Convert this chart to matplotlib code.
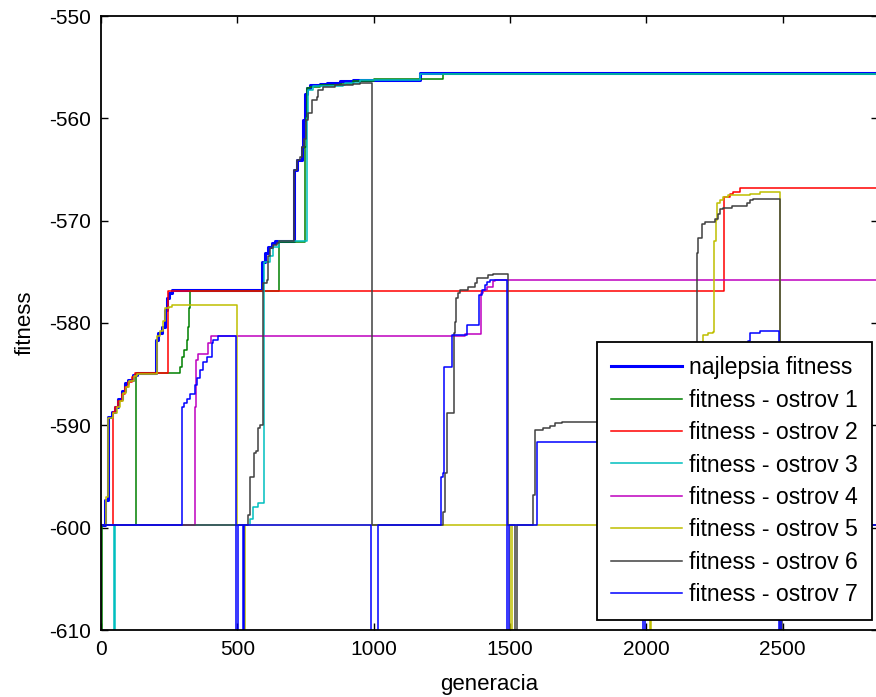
import matplotlib
matplotlib.use("Agg")
import matplotlib.pyplot as plt

# fitness vyvoj na ostrovoch (odcitane z grafu)
# -625 = hodnota pod osou (reset ostrova)

gen_best = [0, 15, 27, 39, 51, 64, 76, 88, 100, 119, 131, 200, 210, 222, 235, 241, 249, 259,
            592, 600, 612, 626, 640, 708, 718, 736, 742, 748, 757, 767, 803, 828, 877, 925, 1170, 2850]
fit_best = [-599.7, -597.3, -589.2, -588.7, -588.2, -587.4, -586.6, -585.9, -585.6, -585.1, -584.9,
            -581.7, -581.0, -580.4, -578.7, -577.6, -577.05, -576.8, -574.0, -573.2, -572.55, -572.2,
            -571.95, -565.0, -564.1, -562.8, -560.2, -557.6, -557.0, -556.7, -556.6, -556.5, -556.4,
            -556.25, -555.55, -555.55]

gen_o1 = [0, 2, 127, 290, 298, 306, 314, 318, 322, 326, 654, 748, 752, 757, 767, 803, 877, 925,
          1000, 1255, 2850]
fit_o1 = [-625, -599.7, -584.9, -584.3, -583.3, -582.65, -581.7, -580.4, -578.5, -576.85, -572.05,
          -562.8, -560.0, -557.0, -556.9, -556.7, -556.6, -556.4, -556.2, -555.65, -555.65]

gen_o2 = [0, 45, 53, 64, 76, 88, 100, 113, 125, 245, 2286, 2307, 2319, 2344, 2850]
fit_o2 = [-599.7, -588.7, -588.2, -587.6, -586.9, -586.3, -585.8, -585.25, -584.9, -576.85,
          -567.66, -567.4, -567.2, -566.85, -566.85]

gen_o3 = [0, 47, 50, 547, 559, 577, 598, 620, 632, 654, 754, 757, 761, 779, 889, 895, 950, 1170, 2850]
fit_o3 = [-599.7, -625, -599.7, -599.2, -598.0, -597.6, -574.0, -573.5, -572.55, -572.0, -562.8,
          -560.0, -557.2, -556.84, -556.7, -556.5, -556.3, -555.7, -555.7]

gen_o4 = [0, 345, 349, 357, 394, 402, 1335, 1394, 1402, 1415, 1439, 1445, 2850]
fit_o4 = [-599.7, -588.2, -583.6, -583.0, -582.0, -581.3, -581.1, -577.1, -576.8, -576.5, -575.9,
          -575.8, -575.8]

gen_o5 = [0, 18, 24, 45, 57, 68, 80, 92, 104, 122, 133, 204, 217, 229, 235, 248, 259, 498, 526, 528,
          1502, 1507, 2012, 2016, 2120, 2160, 2209, 2225, 2243, 2249, 2255, 2258, 2270, 2283, 2300,
          2380, 2418, 2490, 2850]
fit_o5 = [-599.7, -597.0, -589.3, -588.8, -588.2, -587.6, -586.8, -586.3, -585.7, -585.2, -585.0,
          -581.3, -580.8, -579.8, -578.5, -578.4, -578.25, -599.7, -625, -599.7, -625, -599.7, -625,
          -599.7, -590.0, -584.0, -581.2, -581.0, -580.9, -572.0, -569.9, -568.3, -568.0, -567.7,
          -567.5, -567.4, -567.24, -599.7, -599.7]

gen_o6 = [0, 540, 548, 562, 570, 577, 585, 593, 608, 614, 620, 632, 644, 654, 708, 720, 730, 736,
          745, 752, 761, 773, 791, 797, 815, 858, 925, 950, 993, 1253, 1262, 1268, 1295, 1299, 1302,
          1311, 1317, 1347, 1372, 1378, 1421, 1439, 1494, 1519, 1525, 1586, 1592, 1622, 1647, 1665,
          1690, 2185, 2189, 2203, 2215, 2252, 2264, 2270, 2283, 2313, 2368, 2380, 2393, 2490, 2498, 2850]
fit_o6 = [-599.7, -598.8, -595.0, -592.7, -592.5, -590.3, -590.0, -576.1, -575.8, -573.5, -572.7,
          -572.4, -572.2, -572.0, -565.05, -564.1, -563.75, -562.8, -562.0, -560.2, -559.5, -558.2,
          -557.9, -557.2, -556.9, -556.7, -556.6, -556.5, -599.7, -598.5, -594.7, -588.8, -581.0,
          -579.9, -577.6, -577.1, -576.8, -576.5, -576.1, -575.6, -575.3, -575.25, -599.7, -625,
          -599.7, -596.8, -590.5, -590.3, -590.1, -589.8, -589.7, -573.2, -571.7, -570.3, -570.1,
          -569.8, -569.3, -568.9, -568.8, -568.6, -568.3, -568.0, -567.9, -625, -599.7, -599.7]

gen_o7 = [0, 298, 303, 314, 326, 345, 351, 363, 375, 388, 406, 412, 430, 497, 501, 520, 523, 990,
          1017, 1246, 1256, 1258, 1286, 1288, 1341, 1388, 1396, 1408, 1415, 1427, 1490, 1498, 1598,
          1989, 1995, 2300, 2374, 2380, 2417, 2488, 2494, 2850]
fit_o7 = [-599.7, -588.2, -587.8, -587.4, -586.9, -586.1, -585.4, -584.6, -583.8, -583.3, -582.0,
          -581.7, -581.3, -625, -599.7, -625, -599.7, -625, -599.7, -595.0, -594.7, -584.3, -583.95,
          -581.2, -580.2, -577.3, -576.8, -576.3, -576.0, -575.8, -625, -599.7, -591.6, -625, -599.7,
          -590.0, -581.8, -580.95, -580.76, -625, -599.7, -599.7]

labels = ["najlepsia fitness", "fitness - ostrov 1", "fitness - ostrov 2", "fitness - ostrov 3",
          "fitness - ostrov 4", "fitness - ostrov 5", "fitness - ostrov 6", "fitness - ostrov 7"]
colors = ["#0000ff", "#008000", "#ff0000", "#00bfbf", "#bf00bf", "#bfbf00", "#404040", "#0000ff"]

series = [(gen_best, fit_best), (gen_o1, fit_o1), (gen_o2, fit_o2), (gen_o3, fit_o3),
          (gen_o4, fit_o4), (gen_o5, fit_o5), (gen_o6, fit_o6), (gen_o7, fit_o7)]

plt.rcParams['font.family'] = ['Liberation Sans', 'DejaVu Sans']
plt.rcParams['axes.unicode_minus'] = False

fig = plt.figure(figsize=(8.76, 6.97), dpi=100)
ax = fig.add_axes([101 / 876, 67 / 697, 777 / 876, 614 / 697])

for i, (g, f) in enumerate(series):
    lw = 2.2 if i == 0 else 1.1
    ax.plot(g, f, drawstyle='steps-post', color=colors[i], linewidth=lw, label=labels[i])

ax.set_xlim(0, 2850)
ax.set_ylim(-610, -550)
ax.set_xticks([0, 500, 1000, 1500, 2000, 2500])
ax.set_yticks(range(-610, -549, 10))
ax.tick_params(direction='in', top=True, right=True, length=5, width=1, labelsize=15, pad=7)
for s in ax.spines.values():
    s.set_linewidth(1.3)

ax.set_xlabel("generacia", fontsize=16, labelpad=11)
ax.set_ylabel("fitness", fontsize=16, labelpad=10)

leg = ax.legend(loc='lower right', bbox_to_anchor=(0.992, 0.016), borderaxespad=0,
                fontsize=16.6, fancybox=False, framealpha=1, edgecolor='black',
                handlelength=3.1, handletextpad=0.3, labelspacing=0.41, borderpad=0.6)
leg.get_frame().set_linewidth(1.3)

fig.savefig("out.png", dpi=100)
